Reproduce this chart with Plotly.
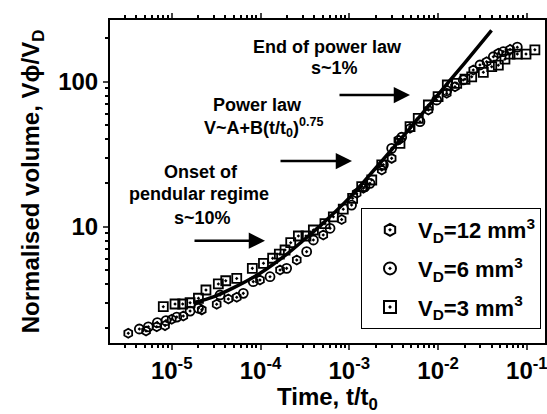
import plotly.graph_objects as go

# ---- data ----
t_12 = [3.24e-6, 5.14e-6, 6.78e-6, 8.41e-6, 1.0e-5, 1.35e-5, 2.18e-5, 3.21e-5, 4.34e-5, 5.40e-5,
        9.86e-5, 1.66e-4, 2.56e-4, 5.09e-4, 8.20e-4, 1.21e-3, 1.44e-3, 2.32e-3, 3.00e-3, 3.57e-3,
        4.83e-3, 7.77e-3, 0.0125, 0.0155, 0.0249, 0.0352, 0.0477, 0.0646]
v_12 = [1.84, 1.91, 2.04, 2.08, 2.30, 2.42, 2.67, 2.92, 3.17, 3.26,
        4.29, 5.03, 5.89, 8.77, 11.2, 17.0, 18.4, 24.6, 29.6, 39.6,
        47.7, 63.8, 83.2, 92.4, 120.5, 137.4, 157, 167]

t_6 = [4.32e-6, 5.45e-6, 6.89e-6, 8.63e-6, 1.14e-5, 1.61e-5, 2.0e-5, 3.50e-5, 6.40e-5, 8.29e-5,
       1.28e-4, 1.97e-4, 3.31e-4, 3.94e-4, 6.07e-4, 1.06e-3, 1.50e-3, 1.71e-3, 2.42e-3, 3.00e-3,
       3.89e-3, 6.25e-3, 9.64e-3, 0.0125, 0.0192, 0.0296, 0.0419, 0.0542, 0.078]
v_6 = [1.97, 2.04, 2.18, 2.25, 2.38, 2.62, 2.74, 3.38, 3.47, 4.18,
       4.52, 5.16, 6.73, 8.10, 9.75, 14.1, 18.9, 19.9, 26.7, 34.7,
       41.4, 53.0, 74.8, 86.7, 102.8, 130.4, 148.6, 161, 173]

t_3 = [8.04e-6, 1.09e-5, 1.33e-5, 1.61e-5, 2.0e-5, 2.43e-5, 3.35e-5, 4.06e-5, 5.40e-5, 8.09e-5,
       1.08e-4, 1.37e-4, 1.63e-4, 1.89e-4, 2.19e-4, 2.67e-4, 3.25e-4, 3.94e-4, 5.32e-4, 6.61e-4,
       8.55e-4, 1.09e-3, 1.38e-3, 1.79e-3, 2.32e-3, 3.72e-3, 4.83e-3, 5.98e-3, 7.77e-3, 0.0100,
       0.0127, 0.0162, 0.0201, 0.0239, 0.0323, 0.0402, 0.0477, 0.0566, 0.0646, 0.078, 0.0977, 0.123]
v_3 = [2.81, 2.93, 2.93, 2.99, 3.21, 3.66, 4.03, 4.24, 4.40, 5.16,
       5.59, 6.06, 6.48, 6.91, 7.76, 8.63, 8.63, 9.49, 10.5, 11.7,
       13.2, 15.7, 18.9, 21.0, 26.7, 37.6, 49.0, 55.9, 69.1, 78.8,
       94.9, 97.5, 104, 108, 116, 127, 130, 143, 155, 155, 155, 166]

# power-law fit line
t_fit = [1.8e-5, 3e-5, 5e-5, 1e-4, 2e-4, 3e-4, 5e-4, 1e-3, 2e-3, 5e-3, 1e-2, 2e-2, 4e-2]
v_fit = [3.0, 3.3, 3.8, 4.8, 6.5, 8.0, 10.5, 15.8, 25.5, 49.0, 81.5, 135, 226]

x_tickvals = [1e-5, 1e-4, 1e-3, 1e-2, 1e-1]
x_ticktext = ["10<sup>-5</sup>", "10<sup>-4</sup>", "10<sup>-3</sup>", "10<sup>-2</sup>", "10<sup>-1</sup>"]
y_tickvals = [10, 100]
y_ticktext = ["10", "100"]

series_names = ["V<sub>D</sub>=12 mm<sup>3</sup>", "V<sub>D</sub>=6 mm<sup>3</sup>", "V<sub>D</sub>=3 mm<sup>3</sup>"]

FONT = "Liberation Sans, Arial, sans-serif"

fig = go.Figure()
mk = dict(color="black", size=9, line=dict(width=1.8, color="black"))
fig.add_trace(go.Scatter(x=t_12, y=v_12, mode="markers", name=series_names[0], legendgroup="a",
                         marker=dict(symbol="hexagon-open-dot", **mk)))
fig.add_trace(go.Scatter(x=t_6, y=v_6, mode="markers", name=series_names[1], legendgroup="b",
                         marker=dict(symbol="circle-open-dot", **mk)))
fig.add_trace(go.Scatter(x=t_3, y=v_3, mode="markers", name=series_names[2], legendgroup="c",
                         marker=dict(symbol="square-open-dot", **mk)))
fig.add_trace(go.Scatter(x=t_fit, y=v_fit, mode="lines", showlegend=False,
                         line=dict(color="black", width=3.5, shape="spline")))

minor_x = [m * 10 ** e for e in range(-6, 0) for m in range(2, 10)]
minor_y = [m * 10 ** e for e in range(0, 3) for m in range(2, 10)]

tickfont = dict(family=FONT, size=24, color="black", weight="bold")
fig.update_xaxes(type="log", range=[-5.695, -0.796], tickmode="array", automargin=True,
                 tickvals=x_tickvals, ticktext=x_ticktext, ticks="outside", ticklen=5, tickwidth=2,
                 showline=True, linecolor="black", linewidth=2, mirror="ticks",
                 showgrid=False, zeroline=False, tickfont=tickfont, ticklabeloverflow="allow",
                 minor=dict(tickmode="array", tickvals=minor_x, ticks="outside", ticklen=3,
                            tickwidth=1.5, tickcolor="black", showgrid=False),
                 title=dict(text="Time, t/t<sub>0</sub>",
                            font=dict(family=FONT, size=24, color="black", weight="bold"), standoff=8))
fig.update_yaxes(type="log", range=[0.198, 2.4255], tickmode="array", automargin=False,
                 tickvals=y_tickvals, ticktext=y_ticktext, ticks="outside", ticklen=5, tickwidth=2,
                 showline=True, linecolor="black", linewidth=2, mirror="ticks",
                 showgrid=False, zeroline=False, tickfont=tickfont,
                 minor=dict(tickmode="array", tickvals=minor_y, ticks="outside", ticklen=3,
                            tickwidth=1.5, tickcolor="black", showgrid=False),
                 title=dict(text="Normalised volume, V\u03d5/V<sub>D</sub>",
                            font=dict(family=FONT, size=24, color="black", weight="bold"), standoff=12))

afont = dict(family=FONT, size=18, color="black", weight="bold")
L, R, T, B = 110, 2, 20, 71
W, H = 547, 414
pw, ph = W - L - R, H - T - B


def px(x):
    return (x - L) / pw


def py(y):
    return (H - B - y) / ph


texts = [
    ("End of power law", 327, 46.7),
    ("s~1%", 334, 68.5),
    ("Power law", 257, 105),
    ("V~A+B(t/t<sub>0</sub>)<sup>0.75</sup>", 264, 127),
    ("Onset of", 201, 172),
    ("pendular regime", 199, 194),
    ("s~10%", 202, 218),
]
for txt, x, y in texts:
    fig.add_annotation(x=px(x), y=py(y), xref="paper", yref="paper", text=txt,
                       showarrow=False, font=afont, xanchor="center", yanchor="middle")

arrows = [(338, 410, 95), (279, 352, 161), (193, 265, 240.7)]
for x0, x1, y in arrows:
    fig.add_annotation(x=px(x1), y=py(y), xref="paper", yref="paper", text="",
                       showarrow=True, ax=x0 - x1, ay=0, arrowhead=2, arrowsize=1.3,
                       arrowwidth=2.5, arrowcolor="black", standoff=0)

fig.update_layout(
    width=W, height=H, margin=dict(l=L, r=R, t=T, b=B, autoexpand=False),
    paper_bgcolor="white", plot_bgcolor="white",
    font=dict(family=FONT, size=22, color="black"),
    legend=dict(x=px(361), y=py(208), xanchor="left", yanchor="top",
                bordercolor="black", borderwidth=1, bgcolor="white",
                font=dict(family=FONT, size=22, color="black", weight="bold"),
                itemsizing="constant", itemwidth=46, tracegroupgap=7),
    showlegend=True,
)

fig.write_html("out.html", config={"displayModeBar": False},
               post_script="document.body.style.margin='0px';")
